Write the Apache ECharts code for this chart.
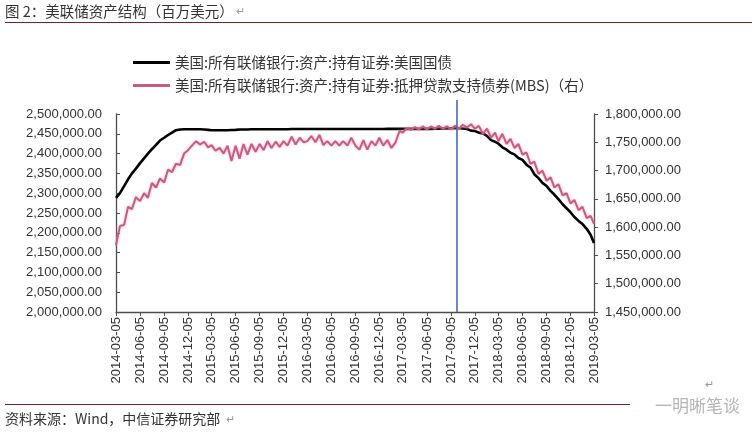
<!DOCTYPE html>
<html><head><meta charset="utf-8">
<script src="https://cdn.jsdelivr.net/npm/echarts@6/dist/echarts.min.js"></script>
<style>html,body{margin:0;padding:0;background:#fff;} #c{width:752px;height:439px;}</style>
</head><body><div id="c"></div>
<script>
const titleText = '图 2：美联储资产结构（百万美元）';
const sourceText = '资料来源：Wind，中信证券研究部';
const watermarkText = '一明晰笔谈';
const seriesNames = [
  '美国:所有联储银行:资产:持有证券:美国国债',
  '美国:所有联储银行:资产:持有证券:抵押贷款支持债券(MBS)（右）'
];
const tickLabels = ['2014-03-05','2014-06-05','2014-09-05','2014-12-05','2015-03-05','2015-06-05','2015-09-05','2015-12-05','2016-03-05','2016-06-05','2016-09-05','2016-12-05','2017-03-05','2017-06-05','2017-09-05','2017-12-05','2018-03-05','2018-06-05','2018-09-05','2018-12-05','2019-03-05'];
const leftAxis = {min: 2000000, max: 2500000, interval: 50000};
const rightAxis = {min: 1450000, max: 1800000, interval: 50000};
const markerDate = '2017-09-28';

// semi-monthly observation dates (5th and 20th of each month)
const dates = [];
for (let y = 2014; y <= 2019; y++) {
  for (let m = 1; m <= 12; m++) {
    if (y === 2014 && m < 3) continue;
    if (y === 2019 && m > 3) break;
    const mm = String(m).padStart(2, '0');
    dates.push(y + '-' + mm + '-05');
    if (!(y === 2019 && m === 3)) dates.push(y + '-' + mm + '-20');
  }
}

// 美国国债 (left axis), millions USD
const treasuries = [
  2288000,2300000, 2318000,2335000, 2350000,2362000, 2376000,2388000, 2400000,2411000,
  2422000,2433000, 2440000,2447000, 2453000,2459000, 2461000,2461500, 2461500,2461500,
  2461500,2461500, 2461000,2460000, 2459000,2459000, 2459000,2459000, 2459000,2459500,
  2460000,2461000, 2461000,2461000, 2461500,2461500, 2461500,2461500, 2461500,2461500,
  2461500,2461500, 2461500,2461500,
  2462000,2462000, 2462000,2462000, 2462000,2462000, 2462000,2462000, 2462000,2462000,
  2462000,2462000, 2462000,2462000, 2462000,2462000, 2462000,2462000, 2462000,2462000,
  2462000,2462000, 2462000,2462000,
  2462500,2462500, 2462500,2462500, 2462500,2462500, 2462500,2462500, 2462500,2462500,
  2462500,2462500, 2463000,2463000, 2463500,2463500, 2464000,2464000, 2464000,2463500,
  2462000,2458000, 2457000,2453000,
  2451000,2445000, 2434000,2430000, 2425000,2416000, 2410000,2402000, 2398000,2389000,
  2384000,2372000, 2365000,2348000, 2338000,2326000, 2318000,2306000, 2296000,2285000,
  2272000,2262000, 2252000,2240000,
  2230000,2222000, 2210000,2195000, 2174000
];

// 抵押贷款支持债券 MBS (right axis), millions USD
const mbs = [
  1568000,1602000, 1604000,1636000, 1632000,1653000, 1646000,1660000, 1652000,1678000,
  1670000,1686000, 1679000,1702000, 1697000,1712000, 1710000,1730000, 1736000,1744000,
  1752000,1746000, 1751000,1741000, 1745000,1735000, 1740000,1730000, 1744000,1717000,
  1744000,1721000, 1747000,1728000, 1747000,1733000, 1747000,1736000, 1752000,1740000,
  1751000,1742000, 1752000,1744000,
  1760000,1746000, 1758000,1750000, 1752000,1761000, 1750000,1763000, 1745000,1752000,
  1744000,1752000, 1744000,1752000, 1744000,1758000, 1744000,1737000, 1754000,1737000,
  1752000,1744000, 1758000,1744000,
  1754000,1740000, 1750000,1770000, 1767000,1775000, 1772000,1777000, 1773000,1778000,
  1773000,1778000, 1774000,1779000, 1774000,1778000, 1773000,1779000, 1774000,1781000,
  1776000,1782000, 1774000,1779000,
  1765000,1774000, 1758000,1767000, 1752000,1765000, 1747000,1756000, 1740000,1747000,
  1728000,1732000, 1712000,1716000, 1694000,1700000, 1682000,1688000, 1670000,1676000,
  1656000,1660000, 1642000,1648000,
  1630000,1636000, 1616000,1620000, 1606000
];

function ts(s) { const p = s.split('-').map(Number); return Date.UTC(p[0], p[1] - 1, p[2]); }
const tickTs = tickLabels.map(ts);
const labelByTs = {};
tickLabels.forEach(l => { labelByTs[ts(l)] = l; });
const fmtNum = v => Number(v).toLocaleString('en-US', {minimumFractionDigits: 2, maximumFractionDigits: 2});

const axisColor = '#4d4d4d';
const numFont = 'Liberation Sans, Arial, sans-serif';
const cjkFont = 'Noto Sans CJK SC, sans-serif';
const blackColor = '#000';
const pinkColor = '#c95a82';

const chart = echarts.init(document.getElementById('c'), null, {renderer: 'canvas'});
chart.setOption({
  animation: false,
  backgroundColor: '#fff',
  grid: {left: 116, right: 158, top: 114, bottom: 127, containLabel: false, outerBoundsMode: 'none'},
  legend: {
    orient: 'vertical', left: 128, top: 50, itemWidth: 37, itemHeight: 3, itemGap: 8,
    selectedMode: false,
    data: [
      {name: seriesNames[0], icon: 'rect', itemStyle: {color: blackColor}},
      {name: seriesNames[1], icon: 'rect', itemStyle: {color: pinkColor}}
    ],
    textStyle: {fontSize: 14.5, lineHeight: 15, color: '#333', fontFamily: cjkFont}
  },
  xAxis: {
    type: 'value',
    min: tickTs[0], max: tickTs[tickTs.length - 1],
    axisLine: {show: true, onZero: false, lineStyle: {color: axisColor, width: 1.3}},
    axisTick: {show: true, customValues: tickTs, length: 4, inside: false, lineStyle: {color: axisColor}},
    axisLabel: {
      show: true, customValues: tickTs, rotate: 90, margin: 5,
      formatter: v => labelByTs[v] || '',
      fontSize: 13, color: '#333', fontFamily: numFont
    },
    splitLine: {show: false}
  },
  yAxis: [
    {
      type: 'value', position: 'left', min: leftAxis.min, max: leftAxis.max, interval: leftAxis.interval,
      axisLine: {show: true, lineStyle: {color: axisColor, width: 1.3}},
      axisTick: {show: true, inside: true, length: 4, lineStyle: {color: axisColor}},
      axisLabel: {formatter: fmtNum, fontSize: 13, color: '#333', fontFamily: numFont, margin: 14},
      splitLine: {show: false}
    },
    {
      type: 'value', position: 'right', min: rightAxis.min, max: rightAxis.max, interval: rightAxis.interval,
      axisLine: {show: true, lineStyle: {color: axisColor, width: 1.3}},
      axisTick: {show: true, inside: false, length: 4, lineStyle: {color: axisColor}},
      axisLabel: {formatter: fmtNum, fontSize: 13, color: '#333', fontFamily: numFont, margin: 11},
      splitLine: {show: false}
    }
  ],
  series: [
    {
      name: seriesNames[0], type: 'line', yAxisIndex: 0, symbol: 'none', showSymbol: false,
      data: dates.map((d, i) => [ts(d), treasuries[i]]),
      lineStyle: {color: blackColor, width: 2.6}, itemStyle: {color: blackColor},
      z: 3,
      markLine: {
        silent: true, symbol: 'none', label: {show: false},
        lineStyle: {color: '#4a6aa5', width: 1.6, type: 'solid'},
        emphasis: {disabled: true},
        data: [[{xAxis: ts(markerDate), y: 100}, {xAxis: ts(markerDate), yAxis: leftAxis.min}]]
      }
    },
    {
      name: seriesNames[1], type: 'line', yAxisIndex: 1, symbol: 'none', showSymbol: false,
      data: dates.map((d, i) => [ts(d), mbs[i]]),
      lineStyle: {color: pinkColor, width: 2, shadowColor: 'rgba(235,160,190,0.8)', shadowBlur: 3},
      itemStyle: {color: pinkColor},
      z: 4
    }
  ],
  graphic: [
    {type: 'text', left: 5, top: 4, style: {text: titleText, fontSize: 14.5, fill: '#333', fontFamily: cjkFont}},
    {type: 'text', left: 236, top: 5, style: {text: '↵', fontSize: 11, fill: '#999', fontFamily: cjkFont}},
    {type: 'line', shape: {x1: 5, y1: 22.5, x2: 752, y2: 22.5}, style: {stroke: '#7a1f2b', lineWidth: 1.2}},
    {type: 'line', shape: {x1: 5, y1: 404.5, x2: 630, y2: 404.5}, style: {stroke: '#7a1f2b', lineWidth: 1.2}},
    {type: 'text', left: 5, top: 412, style: {text: sourceText, fontSize: 14, fill: '#333', fontFamily: cjkFont}},
    {type: 'text', left: 226, top: 413, style: {text: '↵', fontSize: 11, fill: '#999', fontFamily: cjkFont}},
    {type: 'text', left: 705, top: 378, style: {text: '↵', fontSize: 11, fill: '#999', fontFamily: cjkFont}},
    {type: 'text', left: 655, top: 397, style: {text: watermarkText, fontSize: 17, fill: '#b5b5b5', fontFamily: cjkFont}}
  ]
});
</script>
</body></html>
